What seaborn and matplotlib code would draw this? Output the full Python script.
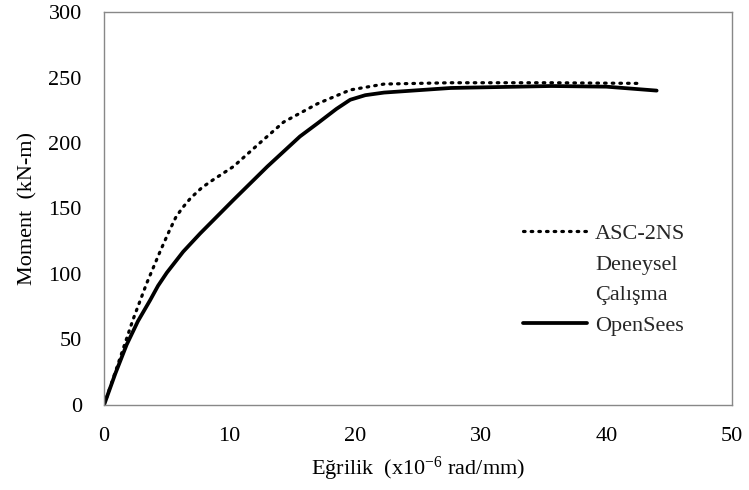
import numpy as np
import pandas as pd
import matplotlib
matplotlib.use("Agg")
import matplotlib.pyplot as plt
from matplotlib.lines import Line2D
import seaborn as sns

# Moment-egrilik verileri
egrilik_deney = [0, 1, 2.3, 3.4, 4.5, 5.2, 5.7, 6.2, 6.9, 7.8, 8.7, 10.3, 12.4, 14.3, 17, 19.6, 22.3, 27.6, 35.6, 42.7]
moment_deney = [0, 28, 65, 93, 118, 133, 143, 150, 158, 166, 172, 182, 200, 216, 230, 240.5, 245, 246, 246, 245.5]

egrilik_opensees = [0, 0.9, 1.8, 2.7, 3.67, 4.3, 5.0, 6.3, 7.66, 10.3, 13.0, 15.6, 17, 18.5, 19.6, 20.8, 22.3, 27.6, 35.6, 40, 44]
moment_opensees = [0, 24, 46, 64, 80, 91, 101, 117, 131, 156.5, 182, 205, 215, 226, 233, 236.5, 238.5, 242, 243.5, 243, 240]

x_ticks = [0, 10, 20, 30, 40, 50]
y_ticks = [0, 50, 100, 150, 200, 250, 300]

deney = pd.DataFrame({"egrilik": egrilik_deney, "moment": moment_deney})
opensees = pd.DataFrame({"egrilik": egrilik_opensees, "moment": moment_opensees})

sns.set_theme(style="white")
plt.rcParams["font.family"] = ["Liberation Serif", "DejaVu Serif"]
plt.rcParams["mathtext.fontset"] = "custom"
plt.rcParams["mathtext.rm"] = "Liberation Serif"
plt.rcParams["mathtext.it"] = "Liberation Serif:italic"

fs = 16
fig = plt.figure(figsize=(7.49, 4.90), dpi=100)
ax = fig.add_axes([0.1389, 0.1735, 0.9773 - 0.1389, 0.9755 - 0.1735])

sns.lineplot(data=deney, x="egrilik", y="moment", ax=ax, color="black",
             linewidth=2.3, linestyle=(0, (0.5, 1.9)), sort=False)
line_deney = ax.lines[-1]
line_deney.set_dash_capstyle("round")
sns.lineplot(data=opensees, x="egrilik", y="moment", ax=ax, color="black",
             linewidth=2.7, sort=False)
line_opensees = ax.lines[-1]

ax.set_xlim(0, 50)
ax.set_ylim(0, 300)
ax.set_xticks(x_ticks)
ax.set_yticks(y_ticks)
ax.tick_params(axis="both", direction="out", length=6, width=1, color="#888888",
               labelsize=fs, labelcolor="black", pad=10)
for sp in ax.spines.values():
    sp.set_color("#888888")
    sp.set_linewidth(1)

ax.set_xlabel(r"Eğrilik  (x10$^{\mathrm{-6}}$ rad/mm)", fontsize=fs, color="black", labelpad=6)
ax.set_ylabel("Moment  (kN-m)", fontsize=fs, color="black", labelpad=8)

bos = Line2D([], [], color="none")
handles = [line_deney, bos, bos, line_opensees]
labels = ["ASC-2NS", "Deneysel", "Çalışma", "OpenSees"]
leg = ax.legend(handles, labels, frameon=False, fontsize=fs, handlelength=2.9,
                handletextpad=0.35, labelspacing=0.45, borderpad=0, borderaxespad=0,
                loc="upper left", bbox_to_anchor=(0.667, 0.462))

fig.savefig("out.png", dpi=100)
